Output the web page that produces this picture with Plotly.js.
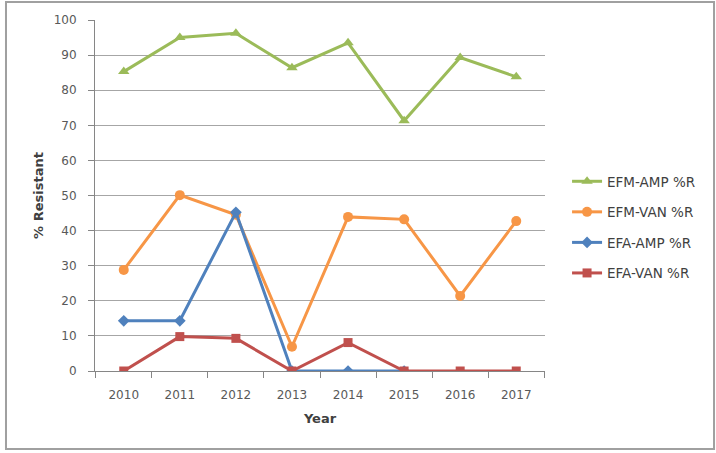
<!DOCTYPE html>
<html>
<head>
<meta charset="utf-8">
<script src="https://cdn.plot.ly/plotly-3.0.1.min.js"></script>
<style>
  html, body { margin: 0; padding: 0; background: #ffffff; }
  #chart { width: 716px; height: 453px; }
</style>
</head>
<body>
<div id="chart"></div>
<script>
// Resistance rates by year for E. faecium (EFM) and E. faecalis (EFA)
const years = ["2010", "2011", "2012", "2013", "2014", "2015", "2016", "2017"];
const efmAmp = [85.3, 95.0, 96.2, 86.4, 93.5, 71.3, 89.3, 83.8];
const efmVan = [28.8, 50.1, 44.5, 6.9, 43.9, 43.2, 21.4, 42.7];
const efaAmp = [14.3, 14.3, 45.2, 0, 0, 0, null, null];
const efaVan = [0, 9.8, 9.3, 0, 8.1, 0, 0, 0];

const seriesNames = ["EFM-AMP %R", "EFM-VAN %R", "EFA-AMP %R", "EFA-VAN %R"];

const fontFamily = "'DejaVu Sans', Verdana, sans-serif";

function series(name, values, color, symbol, size) {
  return {
    type: "scatter",
    mode: "lines+markers",
    x: years,
    y: values,
    name: name,
    legendgroup: name,
    line: { color: color, width: 3 },
    marker: { color: color, symbol: symbol, size: size },
    connectgaps: false
  };
}

const data = [
  series(seriesNames[0], efmAmp, "#9BBB59", "triangle-up", 10),
  series(seriesNames[1], efmVan, "#F79646", "circle", 10),
  series(seriesNames[2], efaAmp, "#4F81BD", "diamond", 9),
  series(seriesNames[3], efaVan, "#C0504D", "square", 9)
];

const layout = {
  width: 716,
  height: 453,
  margin: { l: 95, r: 171, t: 20, b: 82 },
  paper_bgcolor: "#ffffff",
  plot_bgcolor: "#ffffff",
  font: { family: fontFamily, size: 12, color: "#595959" },
  showlegend: true,
  legend: {
    x: 1.049,
    y: 0.584,
    xanchor: "left",
    yanchor: "top",
    tracegroupgap: 10,
    font: { family: fontFamily, size: 13.5, color: "#404040" },
    bgcolor: "rgba(0,0,0,0)"
  },
  xaxis: {
    type: "category",
    tickson: "boundaries",
    ticks: "outside",
    ticklen: 6,
    tickcolor: "#868686",
    ticklabelstandoff: 13,
    showline: true,
    linecolor: "#868686",
    linewidth: 1,
    showgrid: false,
    zeroline: false,
    tickfont: { family: fontFamily, size: 12, color: "#595959" },
    title: { text: "<b>Year</b>", font: { family: fontFamily, size: 13, color: "#404040" }, standoff: 12 },
    fixedrange: true
  },
  yaxis: {
    range: [0, 100],
    dtick: 10,
    ticks: "outside",
    ticklen: 6,
    tickcolor: "#868686",
    ticklabelstandoff: 9,
    showline: true,
    linecolor: "#868686",
    linewidth: 1,
    showgrid: true,
    gridcolor: "#A6A6A6",
    gridwidth: 1,
    zeroline: false,
    tickfont: { family: fontFamily, size: 12, color: "#595959" },
    title: { text: "<b>% Resistant</b>", font: { family: fontFamily, size: 13, color: "#404040" }, standoff: 7 },
    fixedrange: true
  },
  shapes: [{
    type: "rect",
    xref: "paper", yref: "paper",
    x0: -0.1978, x1: 1.3756,
    y0: -0.2222, y1: 1.0513,
    line: { color: "#A0A0A0", width: 2 },
    fillcolor: "rgba(0,0,0,0)",
    layer: "below"
  }]
};

Plotly.newPlot("chart", data, layout, { displayModeBar: false, staticPlot: true });
</script>
</body>
</html>
